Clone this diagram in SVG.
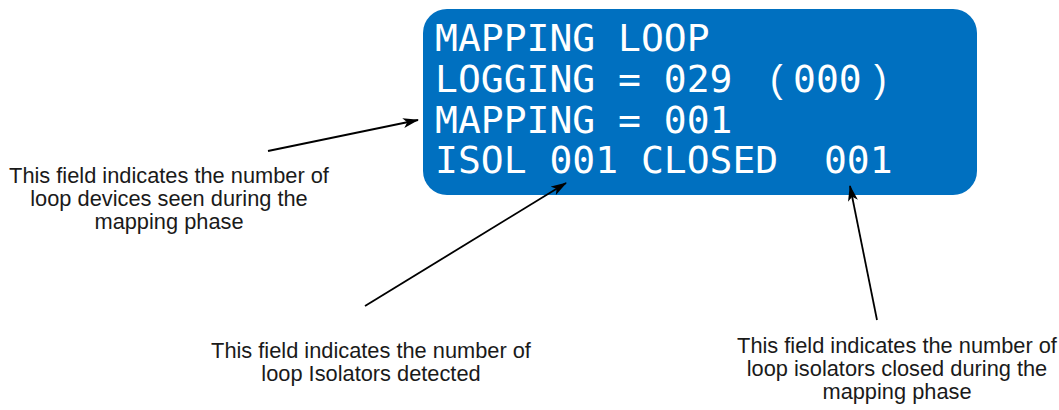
<svg xmlns="http://www.w3.org/2000/svg" width="1059" height="410" viewBox="0 0 1059 410">
  <style>
    .lcd { font-family: "DejaVu Sans Mono", "Liberation Mono", monospace; font-size: 38px; fill: #ffffff; white-space: pre; }
    .paren { font-family: "Liberation Sans", Arial, sans-serif; font-size: 38px; fill: #ffffff; }
    .note { font-family: "Liberation Sans", Arial, sans-serif; font-size: 21.8px; fill: #1a1a1a; text-anchor: middle; }
    .conn { stroke: #000000; stroke-width: 1.8; fill: none; marker-end: url(#arrow); }
  </style>
  <defs>
    <marker id="arrow" viewBox="0 0 16 10" refX="15" refY="5" markerWidth="16" markerHeight="10" markerUnits="userSpaceOnUse" orient="auto">
      <path d="M0,0 L16,5 L0,10 L4,5 Z" fill="#000000"/>
    </marker>
  </defs>
  <rect width="1059" height="410" fill="#ffffff"/>

  <g id="display">
    <rect x="423" y="9" width="554" height="186" rx="24" ry="24" fill="#0070c0"/>
    <text class="lcd" x="435" y="51">MAPPING LOOP</text>
    <text class="lcd" x="435" y="92">LOGGING = 029</text>
    <text class="paren" x="770" y="92">(</text>
    <text class="lcd" x="793" y="92">000</text>
    <text class="paren" x="874" y="92">)</text>
    <text class="lcd" x="435" y="133">MAPPING = 001</text>
    <text class="lcd" x="435" y="173" xml:space="preserve">ISOL 001 CLOSED  001</text>
  </g>

  <g id="note-mapping">
    <text class="note" x="169" y="183">This field indicates the number of</text>
    <text class="note" x="169" y="206">loop devices seen during the</text>
    <text class="note" x="169" y="229">mapping phase</text>
  </g>

  <g id="note-isolators">
    <text class="note" x="371" y="358">This field indicates the number of</text>
    <text class="note" x="371" y="381">loop Isolators detected</text>
  </g>

  <g id="note-closed">
    <text class="note" x="897" y="353">This field indicates the number of</text>
    <text class="note" x="897" y="376">loop isolators closed during the</text>
    <text class="note" x="897" y="399">mapping phase</text>
  </g>

  <g id="connectors">
    <line class="conn" x1="268" y1="151" x2="418" y2="120"/>
    <line class="conn" x1="365" y1="306" x2="566" y2="183"/>
    <line class="conn" x1="877" y1="320" x2="850" y2="186"/>
  </g>
</svg>
